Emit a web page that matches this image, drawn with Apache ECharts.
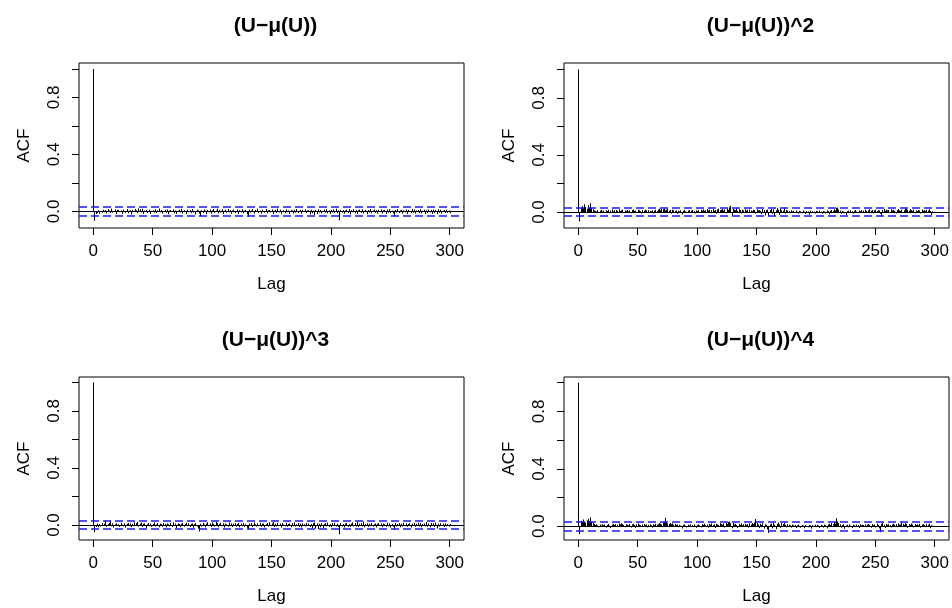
<!DOCTYPE html>
<html><head><meta charset="utf-8">
<script src="https://cdn.jsdelivr.net/npm/echarts@6/dist/echarts.min.js"></script>
<style>html,body{margin:0;padding:0;background:#fff}#c{width:952px;height:608px}</style>
</head><body><div id="c"></div>
<script>
const titles = ["(U\u2212\u03bc(U))", "(U\u2212\u03bc(U))^2", "(U\u2212\u03bc(U))^3", "(U\u2212\u03bc(U))^4"];
const xTicks = [0, 50, 100, 150, 200, 250, 300];
const yTicks = [0, 0.2, 0.4, 0.6, 0.8, 1.0];
const yLabels = [0, 0.4, 0.8];
const ciValues = [0.031, 0.031, 0.031, 0.031];
const maxLag = 300;

const acf1 = [1,
-0.066,-0.018,-0.012,0.008,-0.015,0.004,-0.009,0.012,-0.006,0.010,-0.014,0.016,0.006,-0.011,0.020,-0.008,0.003,0.014,-0.017,0.009,
0.011,-0.005,0.007,-0.019,0.013,0.002,-0.010,0.017,-0.013,0.005,0.009,-0.021,0.012,-0.004,0.018,0.008,-0.012,0.022,0.015,-0.007,
0.019,-0.016,0.006,0.010,-0.011,-0.003,0.013,-0.018,0.004,0.009,-0.008,0.016,-0.012,0.007,0.021,-0.006,0.011,-0.015,0.003,0.012,
-0.009,0.014,-0.020,0.006,0.010,-0.004,0.015,-0.013,0.008,-0.017,0.005,0.011,-0.007,0.018,-0.014,0.009,0.003,-0.019,0.013,-0.006,
0.010,-0.012,0.016,-0.008,0.004,-0.022,0.012,0.007,-0.015,-0.033,0.009,-0.011,0.014,0.005,-0.018,0.010,-0.006,0.013,-0.016,0.008,
0.017,-0.010,0.006,0.020,-0.013,0.011,-0.007,0.015,-0.019,0.004,0.012,-0.009,0.018,-0.005,0.010,-0.016,0.007,0.013,-0.011,0.003,
0.014,-0.018,0.009,-0.006,0.016,-0.012,0.005,0.011,-0.020,-0.038,0.013,-0.008,0.007,0.015,-0.014,0.010,-0.004,0.019,-0.011,0.006,
-0.015,0.012,0.004,-0.009,0.017,-0.013,0.008,0.010,-0.006,0.014,-0.018,0.005,0.011,-0.010,0.020,-0.007,0.013,-0.016,0.003,0.009,
-0.012,0.015,-0.005,0.008,-0.019,0.011,0.006,-0.014,0.013,-0.008,0.017,-0.011,0.004,0.010,-0.016,0.012,-0.003,0.014,-0.010,0.007,
0.009,-0.021,0.012,-0.013,0.006,-0.025,0.011,-0.018,0.015,-0.007,0.010,-0.014,0.005,0.013,-0.009,0.016,-0.012,0.008,-0.017,0.011,
-0.006,0.014,-0.010,0.019,-0.013,0.007,-0.062,0.012,-0.008,0.010,-0.015,0.006,0.013,-0.011,0.017,-0.020,0.009,-0.005,0.015,-0.012,
0.011,-0.017,0.008,0.013,-0.009,0.016,-0.014,0.004,0.012,-0.019,0.010,-0.007,0.018,-0.012,0.006,0.014,-0.010,0.009,-0.016,0.012,
-0.005,0.015,-0.013,0.008,0.011,-0.018,0.013,-0.009,0.017,-0.011,0.006,-0.014,-0.036,0.010,-0.008,0.016,-0.012,0.007,0.012,-0.015,
0.009,-0.006,0.014,-0.017,0.011,0.004,-0.012,0.018,-0.009,0.013,-0.015,0.007,0.010,-0.011,0.016,-0.013,0.005,0.012,-0.019,0.008,
-0.010,0.014,-0.007,0.011,-0.016,0.013,-0.012,0.009,-0.020,0.015,-0.008,0.012,-0.014,0.006,0.010,-0.011,0.013,-0.009,0.007,-0.012];

const acf2 = [1,
-0.066,0.032,0.041,0.028,0.054,0.035,0.024,0.047,0.030,0.062,0.027,0.019,0.011,0.008,0.004,0.013,-0.006,0.009,0.015,0.003,
0.010,-0.004,0.012,0.007,0.016,-0.009,0.011,0.018,0.005,0.013,-0.007,0.014,0.009,0.019,0.006,0.012,0.017,-0.005,0.010,0.008,
0.015,0.004,0.011,-0.008,0.013,0.018,0.007,0.010,-0.003,0.016,0.012,0.006,-0.010,0.014,0.009,0.017,0.011,-0.006,0.013,0.008,
0.005,0.012,-0.009,0.010,0.015,0.007,0.018,0.024,0.014,0.021,0.019,0.026,0.012,0.017,0.022,0.009,0.015,-0.011,0.016,0.013,
0.006,0.011,-0.013,0.009,0.004,0.012,-0.018,0.008,0.014,0.005,-0.007,0.010,0.013,-0.004,0.009,0.015,0.006,-0.010,0.011,0.007,
0.012,-0.006,0.016,0.010,0.019,0.008,0.014,0.021,0.011,0.017,-0.008,0.013,0.020,0.009,0.015,-0.012,0.018,0.024,0.012,0.016,
0.022,0.010,0.018,-0.009,0.026,0.015,0.033,0.044,-0.029,0.021,0.017,0.012,0.025,0.008,0.019,0.014,-0.010,0.016,0.011,0.020,
0.009,0.015,-0.007,0.018,0.012,0.006,0.017,0.013,-0.011,0.019,0.010,0.014,0.008,-0.015,0.021,0.016,-0.024,0.012,0.018,-0.028,
0.014,0.022,-0.013,0.019,-0.030,0.011,0.027,0.016,-0.020,0.024,0.013,0.009,0.031,-0.012,0.015,0.010,0.006,-0.008,0.012,0.004,
0.009,-0.006,0.011,0.003,-0.012,0.008,0.005,-0.009,0.010,0.002,-0.014,0.007,0.004,-0.019,0.009,-0.008,0.006,0.003,-0.011,0.008,
0.005,-0.007,0.010,0.002,-0.013,0.007,0.004,-0.010,0.011,0.006,-0.016,0.009,0.014,0.008,0.019,0.012,0.028,0.031,0.017,0.010,
-0.012,0.008,0.004,-0.009,-0.022,0.006,0.010,-0.007,0.012,0.005,-0.011,0.009,0.014,0.003,-0.008,0.011,0.007,0.013,-0.005,0.010,
0.016,0.008,-0.006,0.012,0.019,0.009,0.014,-0.009,0.011,0.017,0.006,0.013,0.010,-0.012,-0.031,0.015,0.022,0.008,0.018,0.011,
0.014,-0.007,0.019,0.010,0.016,0.008,-0.010,0.013,0.021,0.012,0.007,0.017,-0.006,0.011,0.026,0.023,0.015,0.009,0.020,0.013,
0.008,0.016,-0.009,0.012,0.006,0.014,0.010,-0.011,0.017,0.009,0.013,0.007,0.015,0.011,0.019,0.008,-0.021,0.005,0.002,0.001];

const acf3 = [1,
-0.051,-0.014,0.010,-0.016,0.006,-0.011,0.013,-0.004,0.009,0.034,-0.012,0.007,0.015,0.031,-0.009,0.011,-0.017,0.005,0.012,-0.008,
0.006,-0.013,0.016,0.003,-0.010,0.012,-0.018,0.009,0.014,-0.007,0.011,-0.015,0.008,0.019,-0.006,0.013,0.022,-0.011,0.010,0.017,
-0.014,0.009,0.012,-0.020,0.005,0.015,-0.008,0.011,-0.013,0.007,0.018,-0.010,0.004,0.013,-0.016,0.010,0.006,-0.012,0.014,0.008,
-0.017,0.011,0.005,-0.009,0.016,-0.013,0.019,-0.006,0.010,-0.021,0.012,0.007,-0.015,0.009,0.014,-0.011,0.006,0.017,-0.008,0.012,
-0.014,0.008,0.011,-0.019,0.006,0.013,-0.010,-0.026,-0.045,0.009,-0.012,0.015,0.004,-0.016,0.010,0.020,-0.007,0.012,-0.013,0.018,
0.008,-0.011,0.021,0.013,-0.015,0.006,0.016,-0.009,0.012,-0.018,0.010,0.005,-0.012,0.017,-0.007,0.011,-0.014,0.009,0.013,-0.010,
0.007,0.015,-0.016,0.010,-0.008,0.014,-0.012,0.006,-0.019,-0.030,0.011,-0.006,0.013,-0.015,0.018,0.005,-0.011,0.012,-0.009,0.016,
-0.013,0.008,0.011,-0.017,0.006,0.014,-0.010,0.019,-0.007,0.012,0.022,-0.014,0.009,-0.011,0.015,-0.006,0.010,-0.018,0.013,0.004,
-0.009,0.016,-0.012,0.007,0.011,-0.015,0.013,-0.008,0.018,-0.011,0.005,0.014,-0.013,0.009,-0.017,0.012,0.006,-0.010,0.015,-0.007,
0.010,-0.014,0.008,-0.020,0.013,0.018,-0.024,0.011,-0.028,0.009,-0.016,0.012,-0.022,0.006,0.014,-0.010,0.017,-0.013,0.008,-0.015,
0.012,-0.008,0.016,-0.011,0.009,-0.014,-0.065,0.013,-0.010,0.007,-0.017,0.011,0.015,-0.012,0.008,-0.013,0.010,0.019,-0.009,0.014,
-0.011,0.022,-0.014,0.009,0.013,-0.010,0.024,-0.016,0.007,0.012,-0.013,0.010,-0.008,0.015,-0.012,0.006,0.011,-0.017,0.009,0.013,
-0.007,0.012,-0.015,0.010,0.005,-0.013,0.016,-0.009,0.011,-0.018,0.008,-0.012,-0.034,0.014,-0.010,0.006,0.013,-0.016,0.009,-0.011,
0.015,-0.008,0.011,-0.013,0.007,0.012,-0.017,0.010,-0.006,0.014,-0.012,0.009,0.016,-0.010,0.013,-0.015,0.008,0.011,-0.009,0.020,
-0.012,0.010,-0.016,0.014,-0.008,0.011,-0.013,0.017,-0.025,0.009,-0.011,0.013,-0.007,0.010,-0.014,0.012,-0.009,0.006,-0.010,0.008];

const acf4 = [1,
-0.056,0.038,0.029,0.047,0.033,0.025,0.041,0.052,0.036,0.061,0.030,0.022,0.015,0.009,0.012,0.006,-0.008,0.011,0.004,0.014,
0.007,0.013,-0.010,0.009,0.016,0.005,-0.012,0.011,0.017,0.008,0.014,-0.006,0.010,0.019,0.012,0.021,0.015,0.009,-0.007,0.013,
0.010,0.006,0.015,-0.009,0.012,0.018,0.008,-0.011,0.014,0.020,0.011,0.007,-0.005,0.013,0.016,0.009,0.012,-0.008,0.010,0.015,
0.006,-0.010,0.013,0.009,0.017,0.011,0.014,0.021,0.018,0.012,0.025,0.031,0.058,0.027,0.019,0.016,0.023,0.014,0.020,0.011,
0.017,0.008,0.013,-0.007,0.010,0.005,-0.016,0.009,0.012,0.004,-0.009,0.011,0.006,0.014,-0.005,0.008,0.012,0.003,-0.011,0.009,
0.013,0.006,-0.008,0.015,0.010,0.018,0.007,0.012,-0.010,0.016,0.011,0.020,0.008,0.014,-0.012,0.017,0.013,0.009,0.022,0.015,
0.011,0.019,-0.009,0.024,0.016,0.028,0.033,0.021,-0.014,0.026,0.012,0.018,0.009,-0.011,0.015,0.010,0.020,0.007,0.013,0.017,
0.008,0.014,-0.010,0.019,0.012,0.022,0.016,0.027,0.050,0.024,0.011,-0.013,0.018,0.009,0.021,-0.017,0.014,0.010,-0.022,-0.047,
0.013,0.019,-0.015,0.024,0.010,-0.020,0.017,0.026,0.012,-0.011,0.021,0.015,0.028,0.009,-0.008,0.014,0.011,0.006,-0.009,0.012,
0.007,0.010,-0.013,0.006,0.011,0.003,-0.010,0.008,0.005,-0.014,0.009,0.004,-0.008,0.010,0.006,-0.017,0.008,0.003,0.011,-0.006,
0.009,0.005,-0.012,0.010,0.004,-0.009,0.011,0.007,-0.015,0.012,0.016,0.008,0.021,0.014,0.027,0.019,0.056,0.033,0.022,0.013,
-0.010,0.009,0.014,-0.018,0.006,0.011,-0.008,0.013,0.004,-0.013,0.010,0.007,-0.006,0.012,0.009,-0.011,0.014,0.005,0.010,0.008,
0.013,-0.007,0.011,0.016,0.009,-0.010,0.014,0.007,0.012,-0.009,0.018,0.010,-0.015,-0.042,0.017,0.023,0.011,-0.012,0.016,0.009,
0.014,0.008,-0.009,0.012,0.018,0.010,0.015,-0.007,0.020,0.011,0.013,0.026,0.017,0.009,0.022,0.016,-0.011,0.014,0.010,0.019,
0.012,-0.008,0.015,0.009,0.013,0.006,0.017,-0.010,0.011,0.014,0.008,-0.006,0.016,0.010,0.018,-0.014,0.007,0.004,0.002,0.001];

const acfs = [acf1, acf2, acf3, acf4];

// layout (pixels) and axis ranges
const grids = [
  {left: 79, top: 63, width: 385, height: 165},
  {left: 564, top: 63, width: 385, height: 165},
  {left: 79, top: 377, width: 385, height: 163},
  {left: 564, top: 377, width: 385, height: 163}
];
const yRanges = [[-0.116, 1.042], [-0.112, 1.045], [-0.105, 1.038], [-0.096, 1.040]];
const xMin = -12, xMax = 312;
const FONT = 'Liberation Sans, Arial, Helvetica, sans-serif';

const option = {
  animation: false,
  backgroundColor: '#fff',
  title: [], grid: [], xAxis: [], yAxis: [], series: []
};

for (let i = 0; i < 4; i++) {
  const g = grids[i];
  option.title.push({
    text: titles[i],
    left: g.left + g.width / 2 - 1, top: g.top - 52, textAlign: 'center',
    textStyle: {fontFamily: FONT, fontSize: 21, fontWeight: 'bold', color: '#000'}
  });
  option.grid.push({left: g.left, top: g.top, width: g.width, height: g.height,
    show: true, borderColor: '#000', borderWidth: 1, backgroundColor: 'transparent'});
  option.xAxis.push({
    type: 'value', gridIndex: i, min: xMin, max: xMax,
    name: 'Lag', nameLocation: 'middle', nameGap: 48,
    nameTextStyle: {fontFamily: FONT, fontSize: 17, color: '#000'},
    axisLine: {show: false, onZero: false},
    splitLine: {show: false},
    axisTick: {show: true, inside: false, length: 7, lineStyle: {color: '#000', width: 1}, customValues: xTicks},
    axisLabel: {show: true, margin: 15, fontFamily: FONT, fontSize: 17, color: '#000', customValues: xTicks,
      formatter: v => String(v)}
  });
  option.yAxis.push({
    type: 'value', gridIndex: i, min: yRanges[i][0], max: yRanges[i][1],
    name: 'ACF', nameLocation: 'middle', nameGap: 46,
    nameTextStyle: {fontFamily: FONT, fontSize: 17, color: '#000'},
    axisLine: {show: false, onZero: false},
    splitLine: {show: false},
    axisTick: {show: true, inside: false, length: 7, lineStyle: {color: '#000', width: 1}, customValues: yTicks},
    axisLabel: {show: true, margin: 16, rotate: 90, fontFamily: FONT, fontSize: 17, color: '#000', customValues: yLabels,
      formatter: v => Number(v).toFixed(1)}
  });
  const data = acfs[i].map((v, k) => [k, v]);
  option.series.push({
    type: 'custom', xAxisIndex: i, yAxisIndex: i, data: data, z: 2, silent: true,
    renderItem: function (params, api) {
      const x = api.value(0), y = api.value(1);
      const p0 = api.coord([x, 0]), p1 = api.coord([x, y]);
      const px = Math.round(p0[0]) + 0.5;
      return {type: 'line', shape: {x1: px, y1: p0[1], x2: px, y2: p1[1]},
        style: {stroke: '#000', lineWidth: 1}};
    }
  });
  // horizontal reference lines: zero (solid black) and +/- ci (dashed blue)
  const refLines = [[0, 0], [ciValues[i], 1], [-ciValues[i], 1]];
  option.series.push({
    type: 'custom', xAxisIndex: i, yAxisIndex: i, data: refLines, z: 4, silent: true,
    renderItem: function (params, api) {
      const y = api.value(0), dashed = api.value(1) === 1;
      const a = api.coord([xMin, y]), b = api.coord([xMax, y]);
      const py = dashed ? Math.round(a[1]) : Math.round(a[1]) + 0.5;
      return {type: 'line', shape: {x1: a[0], y1: py, x2: b[0], y2: py},
        style: {stroke: dashed ? '#1a1aff' : '#000', lineWidth: dashed ? 1.4 : 1, lineDash: dashed ? [8, 4] : null}};
    }
  });
}

const chart = echarts.init(document.getElementById('c'), null, {renderer: 'canvas'});
chart.setOption(option);
</script>
</body></html>
